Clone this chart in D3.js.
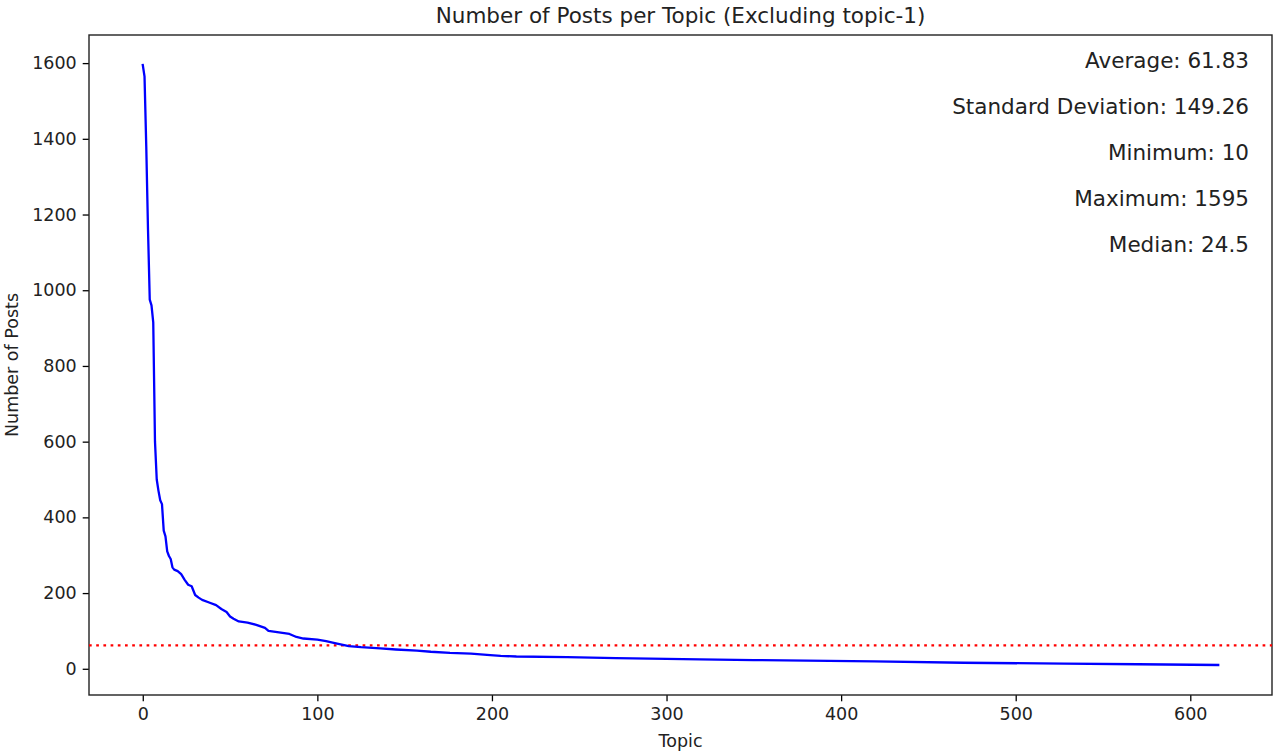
<!DOCTYPE html>
<html>
<head>
<meta charset="utf-8">
<script src="https://cdn.jsdelivr.net/npm/d3@7/dist/d3.min.js"></script>
<style>
  body { margin: 0; background: #fff; }
  svg { display: block; font-family: "DejaVu Sans", sans-serif; }
</style>
</head>
<body>
<svg id="chart" width="1273" height="751"></svg>
<script>
// topic index (sorted by size) and number of posts
const topics = [0, 1, 2, 3, 4, 5, 6, 7, 8, 9, 10, 11, 12, 13, 14, 15, 16, 17, 18, 20,
  22, 24, 26, 28, 30, 32, 34, 38, 42, 45, 48, 50, 52, 55, 60, 65, 70, 72, 78, 84,
  88, 92, 100, 105, 110, 118, 125, 136, 145, 157, 165, 176, 188, 199, 205, 214, 243, 271, 300, 319,
  350, 419, 470, 528, 570, 616];
const posts = [1595, 1565, 1380, 1160, 975, 960, 915, 600, 500, 470, 445, 435, 365, 350, 310, 298, 290, 268, 262, 258,
  250, 235, 222, 218, 195, 188, 182, 175, 168, 158, 150, 138, 132, 125, 122, 116, 108, 100, 96, 92,
  84, 80, 77, 73, 68, 60, 57, 54, 51, 48, 45, 42, 40, 36, 34, 32.5, 31, 28, 26, 25,
  23, 19.5, 16, 13.5, 12, 10];

const xTicks = [0, 100, 200, 300, 400, 500, 600];
const yTicks = [0, 200, 400, 600, 800, 1000, 1200, 1400, 1600];

const stats = ['Average: 61.83', 'Standard Deviation: 149.26', 'Minimum: 10', 'Maximum: 1595', 'Median: 24.5'];
const average = 61.83;

const plot = { left: 89, right: 1272, top: 35, bottom: 695 };

const svg = d3.select('#chart');

// matplotlib style 5% margins
const xMax = d3.max(topics), xMin = d3.min(topics);
const yMax = d3.max(posts), yMin = d3.min(posts);
const xPad = (xMax - xMin) * 0.05, yPad = (yMax - yMin) * 0.05;

const x = d3.scaleLinear().domain([xMin - xPad, xMax + xPad]).range([plot.left, plot.right]);
const y = d3.scaleLinear().domain([yMin - yPad, yMax + yPad]).range([plot.bottom, plot.top]);

const data = topics.map((t, i) => ({ t, v: posts[i] }));

// axes
const xAxis = svg.append('g')
  .attr('transform', `translate(0,${plot.bottom})`)
  .call(d3.axisBottom(x).tickValues(xTicks).tickSize(6.3).tickPadding(6).tickFormat(d3.format('d')));
const yAxis = svg.append('g')
  .attr('transform', `translate(${plot.left},0)`)
  .call(d3.axisLeft(y).tickValues(yTicks).tickSize(6.3).tickPadding(6).tickFormat(d3.format('d')));

[xAxis, yAxis].forEach(a => {
  a.select('.domain').remove();
  a.selectAll('line').attr('stroke', '#000').attr('stroke-width', 1.3);
  a.selectAll('text').attr('fill', '#222').style('font-size', '17.5px').style('font-family', '"DejaVu Sans", sans-serif');
});

// frame
svg.append('rect')
  .attr('x', plot.left).attr('y', plot.top)
  .attr('width', plot.right - plot.left).attr('height', plot.bottom - plot.top)
  .attr('fill', 'none').attr('stroke', '#222').attr('stroke-width', 1.4);

// average line
svg.append('line')
  .attr('x1', plot.left).attr('x2', plot.right)
  .attr('y1', y(average)).attr('y2', y(average))
  .attr('stroke', '#ff0000').attr('stroke-width', 2.4)
  .attr('stroke-dasharray', '2.7,4.5');

const line = d3.line().x(d => x(d.t)).y(d => y(d.v));

svg.append('path')
  .datum(data)
  .attr('d', line)
  .attr('fill', 'none')
  .attr('stroke', '#0000ff')
  .attr('stroke-width', 2.3)
  .attr('stroke-linejoin', 'round')
  .attr('stroke-linecap', 'square');

// stats text, top right
svg.selectAll('.stat')
  .data(stats)
  .enter().append('text')
  .attr('class', 'stat')
  .attr('x', 1249)
  .attr('y', (d, i) => 68 + i * 46)
  .attr('text-anchor', 'end')
  .style('font-size', '21.5px')
  .attr('fill', '#222')
  .text(d => d);

// title and labels
svg.append('text')
  .attr('x', (plot.left + plot.right) / 2).attr('y', 23)
  .attr('text-anchor', 'middle')
  .style('font-size', '21.5px')
  .attr('fill', '#222')
  .text('Number of Posts per Topic (Excluding topic-1)');

svg.append('text')
  .attr('x', (plot.left + plot.right) / 2).attr('y', 747)
  .attr('text-anchor', 'middle')
  .style('font-size', '17.5px')
  .attr('fill', '#222')
  .text('Topic');

svg.append('text')
  .attr('transform', `translate(18,${(plot.top + plot.bottom) / 2}) rotate(-90)`)
  .attr('text-anchor', 'middle')
  .style('font-size', '17.5px')
  .attr('fill', '#222')
  .text('Number of Posts');
</script>
</body>
</html>
